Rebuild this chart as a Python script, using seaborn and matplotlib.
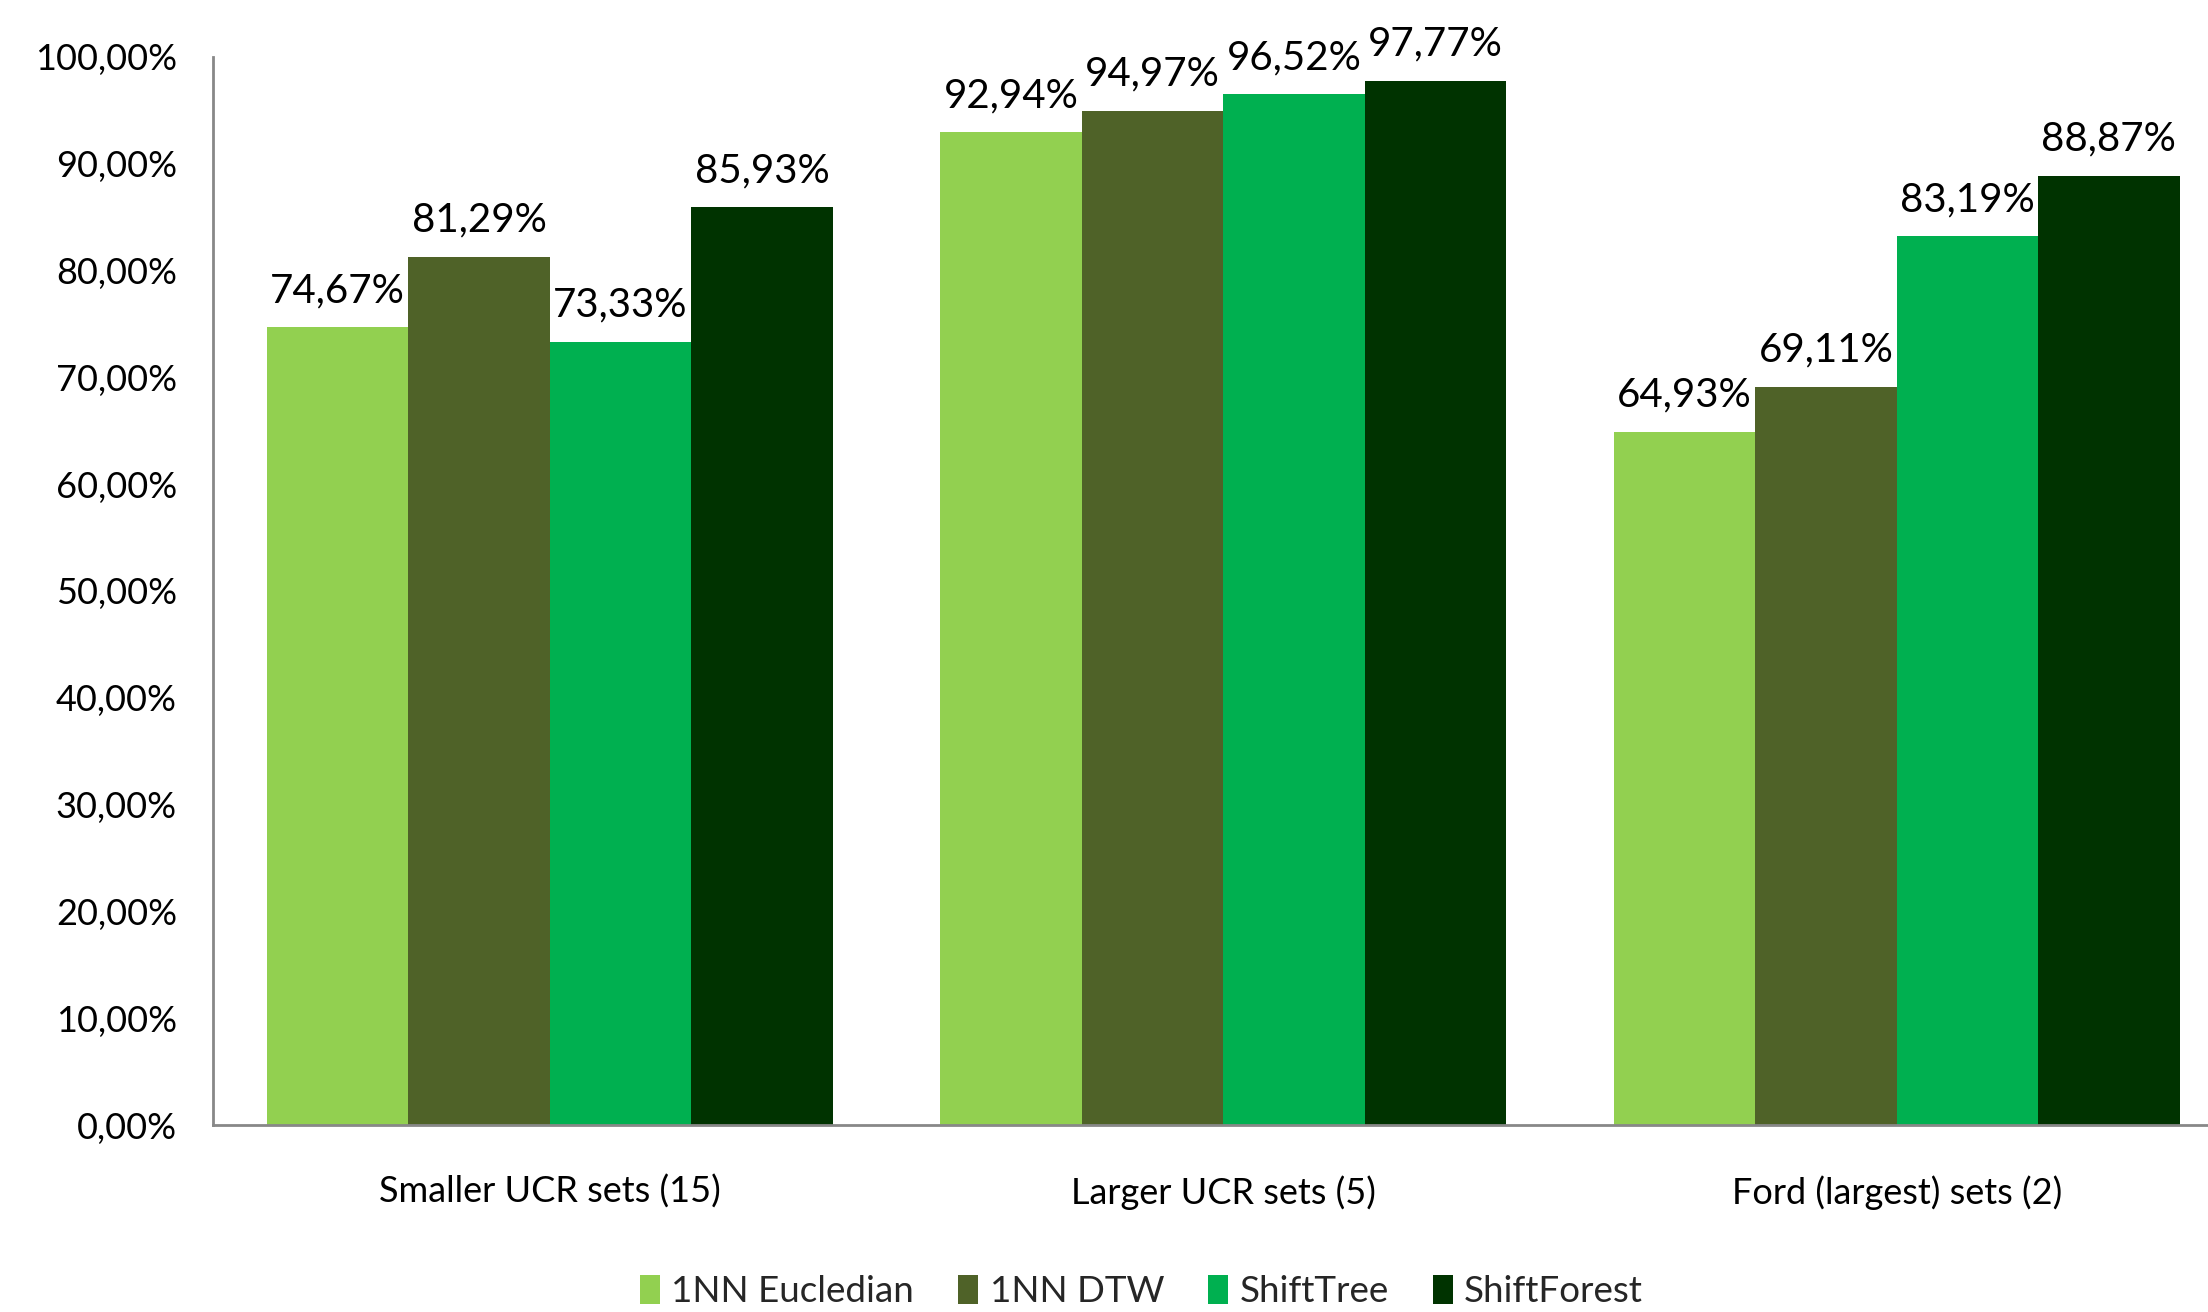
import matplotlib
matplotlib.use("Agg")
import matplotlib.pyplot as plt
import seaborn as sns
import pandas as pd
from matplotlib.ticker import FuncFormatter, MultipleLocator
from matplotlib.patches import Patch

categories = ["Smaller UCR sets (15)", "Larger UCR sets (5)", "Ford (largest) sets (2)"]
methods = ["1NN Eucledian", "1NN DTW", "ShiftTree", "ShiftForest"]
eucl = [74.67, 92.94, 64.93]
dtw = [81.29, 94.97, 69.11]
tree = [73.33, 96.52, 83.19]
forest = [85.93, 97.77, 88.87]
colors = ["#92D050", "#4F6228", "#00B050", "#003300"]

rows = []
for m, vals in zip(methods, [eucl, dtw, tree, forest]):
    for c, v in zip(categories, vals):
        rows.append({"category": c, "method": m, "value": v})
df = pd.DataFrame(rows)

sns.set_theme(style="white")
plt.rcParams["font.family"] = ["Lato", "DejaVu Sans"]

fig = plt.figure(figsize=(22.08, 13.12), dpi=100)
ax = fig.add_axes([0.0965, 0.1425, 0.915, 0.8141])

sns.barplot(data=df, x="category", y="value", hue="method", order=categories,
            hue_order=methods, palette=colors, width=0.84, gap=0, saturation=1,
            edgecolor="none", linewidth=0, ax=ax, legend=False)

ax.set_xlim(-0.5, 2.5)
ax.set_ylim(0, 100)
ax.yaxis.set_major_locator(MultipleLocator(10))
ax.yaxis.set_major_formatter(FuncFormatter(lambda v, p: f"{v:.2f}".replace(".", ",") + "%"))
ax.set_xlabel("")
ax.set_ylabel("")
ax.tick_params(axis="y", labelsize=26, length=0, pad=26, labelcolor="black")
ax.tick_params(axis="x", labelsize=26, length=0, pad=36, labelcolor="black")
for s in ["top", "right"]:
    ax.spines[s].set_visible(False)
for s in ["left", "bottom"]:
    ax.spines[s].set_color("#888888")
    ax.spines[s].set_linewidth(2)

for cont in ax.containers:
    labels = [f"{b.get_height():.2f}".replace(".", ",") + "%" for b in cont]
    ax.bar_label(cont, labels=labels, padding=13, fontsize=29, color="black")

handles = [Patch(facecolor=c, edgecolor="none") for c in colors]
fig.legend(handles, methods, loc="center", bbox_to_anchor=(0.517, 0.0155), ncol=4,
           frameon=False, fontsize=26.5, handlelength=0.55, handleheight=0.85,
           handletextpad=0.3, columnspacing=1.2)

fig.savefig("out.png", dpi=100)
